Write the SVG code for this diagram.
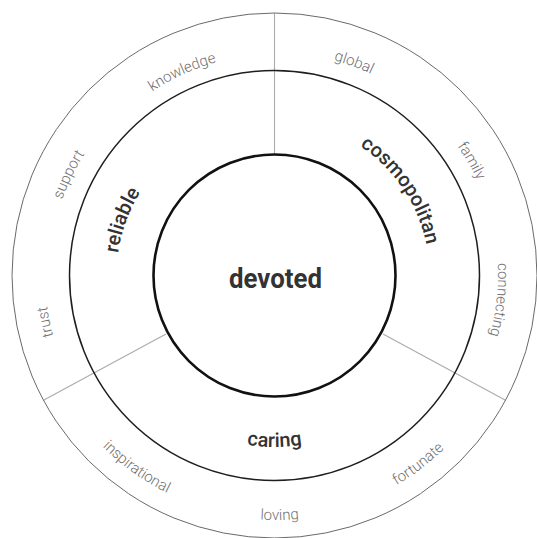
<svg xmlns="http://www.w3.org/2000/svg" xmlns:xlink="http://www.w3.org/1999/xlink" width="537" height="538" viewBox="0 0 537 538">
<style>
  .ring { fill: none; }
  .outer { stroke: #6a6a6a; stroke-width: 1; }
  .middle { stroke: #1e1e1e; stroke-width: 1.5; }
  .inner { stroke: #111; stroke-width: 2.6; }
  .div { stroke: #ababab; stroke-width: 1.1; fill: none; }
  .lbl-outer { font-family: Roboto, "Liberation Sans", sans-serif; font-weight: 300; font-size: 15px; fill: #6f6f6f; }
  .lbl-mid { font-family: Roboto, "Liberation Sans", sans-serif; font-weight: 500; font-size: 20px; fill: #333; }
  .lbl-core { font-family: Roboto, "Liberation Sans", sans-serif; font-weight: 700; font-size: 28px; fill: #333; }
</style>
<defs>
  <path id="p-knowledge" d="M54.15,292.46 A221,221 0 0 1 432.40,120.88"/>
  <path id="p-global" d="M104.55,130.35 A223.5,223.5 0 0 1 497.99,277.45"/>
  <path id="p-support" d="M112.02,431.86 A225.5,225.5 0 0 1 298.46,51.28"/>
  <path id="p-family" d="M234.83,55.04 A224,224 0 0 1 446.59,418.88"/>
  <path id="p-trust" d="M240.58,502.48 A229.5,229.5 0 0 1 154.59,79.82"/>
  <path id="p-connecting" d="M373.18,74.96 A223.5,223.5 0 0 1 327.81,492.55"/>
  <path id="p-inspirational" d="M41.05,209.88 A242.5,242.5 0 0 0 411.16,475.83"/>
  <path id="p-loving" d="M46.55,363.92 A244.5,244.5 0 0 0 505.96,354.30"/>
  <path id="p-fortunate" d="M143.49,479.57 A242.5,242.5 0 0 0 506.03,203.39"/>
  <path id="p-reliable" d="M172.94,396.53 A158,158 0 0 1 274.5,117.5"/>
  <path id="p-cosmopolitan" d="M237.00,125.10 A155,155 0 0 1 399.90,366.61"/>
  <path id="p-caring" d="M113.34,334.16 A171.5,171.5 0 0 0 435.66,334.16"/>
</defs>
<rect width="537" height="538" fill="#fff"/>
<g id="connectors">
  <line class="div" x1="274.5" y1="13" x2="274.5" y2="155"/>
  <line class="div" x1="166" y1="334" x2="43" y2="400.5"/>
  <line class="div" x1="383" y1="334" x2="506" y2="400.5"/>
</g>
<g id="ring-outer">
  <circle class="ring outer" cx="274.5" cy="275.5" r="262.5"/>
  <text class="lbl-outer" text-anchor="middle"><textPath xlink:href="#p-knowledge" href="#p-knowledge" startOffset="50%">knowledge</textPath></text>
  <text class="lbl-outer" text-anchor="middle"><textPath xlink:href="#p-global" href="#p-global" startOffset="50%">global</textPath></text>
  <text class="lbl-outer" text-anchor="middle"><textPath xlink:href="#p-support" href="#p-support" startOffset="50%">support</textPath></text>
  <text class="lbl-outer" text-anchor="middle"><textPath xlink:href="#p-family" href="#p-family" startOffset="50%">family</textPath></text>
  <text class="lbl-outer" text-anchor="middle"><textPath xlink:href="#p-trust" href="#p-trust" startOffset="50%">trust</textPath></text>
  <text class="lbl-outer" text-anchor="middle"><textPath xlink:href="#p-connecting" href="#p-connecting" startOffset="50%">connecting</textPath></text>
  <text class="lbl-outer" text-anchor="middle"><textPath xlink:href="#p-inspirational" href="#p-inspirational" startOffset="50%">inspirational</textPath></text>
  <text class="lbl-outer" text-anchor="middle"><textPath xlink:href="#p-loving" href="#p-loving" startOffset="50%">loving</textPath></text>
  <text class="lbl-outer" text-anchor="middle"><textPath xlink:href="#p-fortunate" href="#p-fortunate" startOffset="50%">fortunate</textPath></text>
</g>
<g id="ring-middle">
  <circle class="ring middle" cx="274.5" cy="275.5" r="205"/>
  <text class="lbl-mid" text-anchor="middle"><textPath xlink:href="#p-reliable" href="#p-reliable" startOffset="50%">reliable</textPath></text>
  <text class="lbl-mid" text-anchor="middle"><textPath xlink:href="#p-cosmopolitan" href="#p-cosmopolitan" startOffset="50%">cosmopolitan</textPath></text>
  <text class="lbl-mid" text-anchor="middle"><textPath xlink:href="#p-caring" href="#p-caring" startOffset="50%">caring</textPath></text>
</g>
<g id="core">
  <circle class="ring inner" cx="274.5" cy="275.5" r="121"/>
  <text class="lbl-core" x="275.5" y="288" text-anchor="middle" textLength="93" lengthAdjust="spacingAndGlyphs">devoted</text>
</g>
</svg>
